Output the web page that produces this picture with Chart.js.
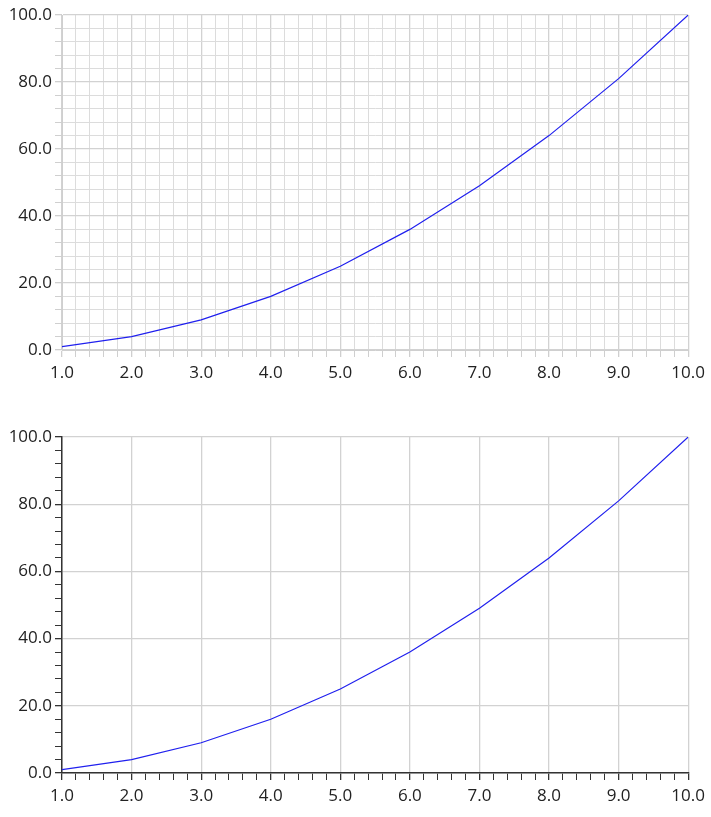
<!DOCTYPE html>
<html><head><script src="https://cdn.jsdelivr.net/npm/chart.js@4"></script>
<style>body{margin:0;background:#fff}#a{position:absolute;left:0;top:0;width:711px;height:400px}#b{position:absolute;left:0;top:422px;width:711px;height:395px}</style>
</head><body><div id="a"><canvas id="c1"></canvas></div><div id="b"><canvas id="c2"></canvas></div>
<script>
const xValues=[1,2,3,4,5,6,7,8,9,10];
const yValues=[1,4,9,16,25,36,49,64,81,100];
const isMajor=(v,s)=>Math.abs(v/s-Math.round(v/s))<1e-6;
function make(id,minorGrid,xh){
  const font={family:'"Open Sans", "Noto Sans", sans-serif',size:17};
  new Chart(document.getElementById(id),{type:'line',
    data:{datasets:[{data:xValues.map((x,i)=>({x,y:yValues[i]})),borderColor:'#2020ee',borderWidth:1.2,pointRadius:0,tension:0}]},
    options:{responsive:true,maintainAspectRatio:false,animation:false,
      layout:{padding:{top:15,right:20,left:0,bottom:0}},
      plugins:{legend:{display:false},tooltip:{enabled:false}},
      scales:{
        x:{type:'linear',min:1,max:10,
          afterFit:s=>{s.height=xh;},
          border:{color:minorGrid?'#cfcfcf':'#333',width:minorGrid?1:1.5},
          ticks:{stepSize:0.2,autoSkip:false,maxRotation:0,color:'#222',font,padding:6,
            callback:v=>isMajor(v,1)?v.toFixed(1):''},
          grid:{tickLength:7,
            color:c=>isMajor(c.tick.value,1)?'#d2d2d2':(minorGrid?'#dcdcdc':'rgba(0,0,0,0)'),
            tickColor:c=>minorGrid?'#cfcfcf':'#333',
            lineWidth:c=>isMajor(c.tick.value,1)?1.3:1}},
        y:{min:0,max:100,
          afterFit:s=>{s.width=62;},
          border:{color:minorGrid?'#cfcfcf':'#333',width:minorGrid?1:1.5},
          ticks:{stepSize:4,autoSkip:false,color:'#222',font,padding:3,
            callback:v=>isMajor(v,20)?v.toFixed(1):''},
          grid:{tickLength:7,
            color:c=>isMajor(c.tick.value,20)?'#d2d2d2':(minorGrid?'#dcdcdc':'rgba(0,0,0,0)'),
            tickColor:c=>minorGrid?'#cfcfcf':'#333',
            lineWidth:c=>isMajor(c.tick.value,20)?1.3:1}}
      }}});
}
make('c1',true,50);
make('c2',false,44);
</script></body></html>
